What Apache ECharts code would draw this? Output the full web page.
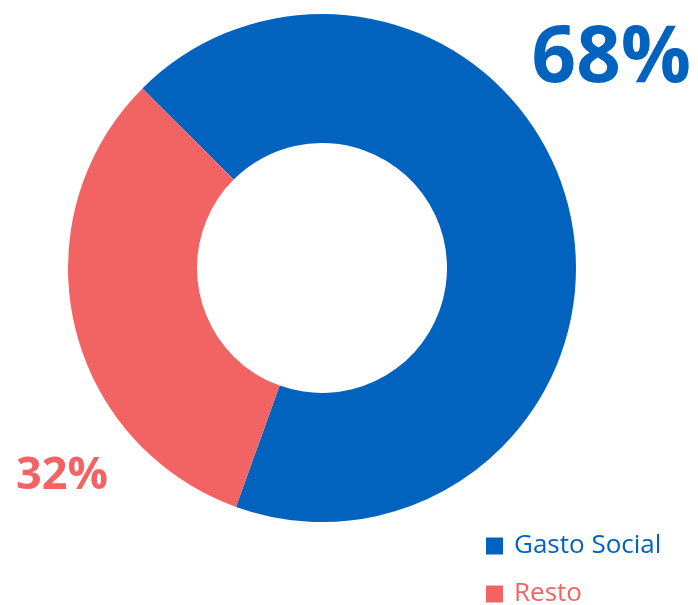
<!DOCTYPE html>
<html><head><meta charset="utf-8">
<script src="https://cdn.jsdelivr.net/npm/echarts@6/dist/echarts.min.js"></script>
<style>html,body{margin:0;padding:0;background:#fff}#c{width:698px;height:605px}</style>
</head><body><div id="c"></div>
<script>
const categories = ["Gasto Social", "Resto"];
const values = [68, 32];
const colors = ["#0263BF", "#F26464"];
const chart = echarts.init(document.getElementById('c'));
const legendTops = [528, 576];
chart.setOption({
  animation: false,
  title: [
    { text: values[0] + '%', right: 2, top: 16, textStyle: { color: colors[0], fontSize: 78, fontWeight: 'bold', fontFamily: 'Open Sans' } },
    { text: values[1] + '%', left: 11, top: 449, textStyle: { color: colors[1], fontSize: 45, fontWeight: 'bold', fontFamily: 'Open Sans' } }
  ],
  legend: categories.map((n, i) => ({
    orient: 'vertical', left: 481, top: legendTops[i], itemWidth: 17, itemHeight: 17, itemGap: 12, icon: 'rect',
    data: [{ name: n, textStyle: { color: colors[i] } }],
    textStyle: { fontSize: 26, fontFamily: 'Open Sans', padding: [0, 0, 0, 6] }
  })),
  series: [{
    type: 'pie', center: [322, 268], radius: [125, 254], startAngle: 135, clockwise: true,
    label: { show: false }, labelLine: { show: false }, silent: true,
    data: categories.map((n, i) => ({ name: n, value: values[i], itemStyle: { color: colors[i] } }))
  }]
});
</script></body></html>
